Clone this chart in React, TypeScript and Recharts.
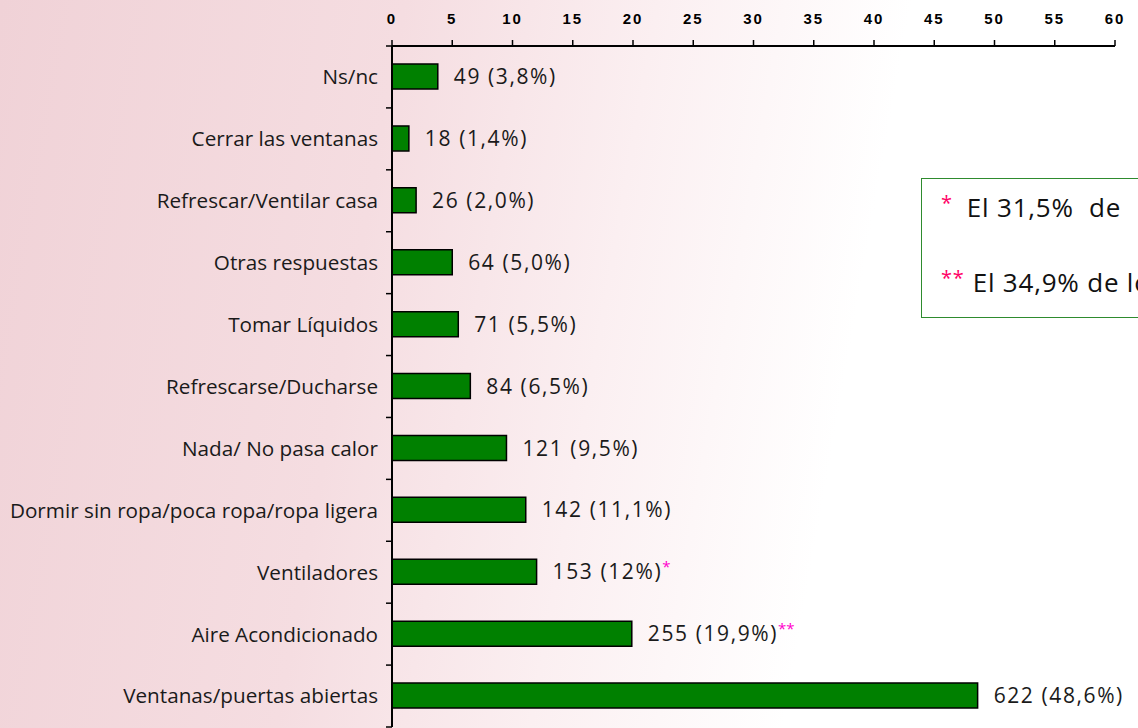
import * as React from 'react';
import { BarChart, Bar, XAxis, YAxis, LabelList } from 'recharts';

const categories = [
  'Ns/nc',
  'Cerrar las ventanas',
  'Refrescar/Ventilar casa',
  'Otras respuestas',
  'Tomar Líquidos',
  'Refrescarse/Ducharse',
  'Nada/ No pasa calor',
  'Dormir sin ropa/poca ropa/ropa ligera',
  'Ventiladores',
  'Aire Acondicionado',
  'Ventanas/puertas abiertas',
];
const counts = [49, 18, 26, 64, 71, 84, 121, 142, 153, 255, 622];
const percents = [3.8, 1.4, 2.0, 5.0, 5.5, 6.5, 9.5, 11.1, 12, 19.9, 48.6];
const percentText = ['3,8', '1,4', '2,0', '5,0', '5,5', '6,5', '9,5', '11,1', '12', '19,9', '48,6'];
const marks = ['', '', '', '', '', '', '', '', '*', '**', ''];
const xTicks = [0, 5, 10, 15, 20, 25, 30, 35, 40, 45, 50, 55, 60];
const notes = [
  { mark: '*', text: 'El 31,5%  de' },
  { mark: '**', text: 'El 34,9% de lo' },
];

const data = categories.map((name, i) => ({
  name,
  value: percents[i],
  label: `${counts[i]} (${percentText[i]}%)`,
  mark: marks[i],
}));

const FONT = '"Open Sans", "Liberation Sans", sans-serif';

function BarLabel(props: any) {
  const { x, y, width, height, index } = props;
  const d = data[index];
  return (
    <text
      x={x + width + 16}
      y={y + height / 2}
      dy="0.36em"
      fontFamily={FONT}
      fontSize={21}
      letterSpacing={1.6}
      fill="#1a1a1a"
    >
      {d.label}
      {d.mark && (
        <tspan fill="#ff00cc" fontSize={15} dy="-0.5em" letterSpacing={0}>
          {d.mark}
        </tspan>
      )}
    </text>
  );
}

// category label at the band centre, small tick marks on the band boundaries
function CategoryTick(props: any) {
  const { x, y, payload, index, height, visibleTicksCount } = props;
  const band = height / visibleTicksCount;
  const axisX = x + 14;
  return (
    <g>
      <line x1={axisX - 6} x2={axisX} y1={y - band / 2} y2={y - band / 2} stroke="#000" strokeWidth={1.5} />
      {index === visibleTicksCount - 1 && (
        <line x1={axisX - 6} x2={axisX} y1={y + band / 2} y2={y + band / 2} stroke="#000" strokeWidth={1.5} />
      )}
      <text
        x={x}
        y={y}
        dy="0.36em"
        textAnchor="end"
        fontFamily={FONT}
        fontSize={20.7}
        fill="#1a1a1a"
      >
        {payload.value}
      </text>
    </g>
  );
}

export default function App() {
  return (
    <div
      style={{
        position: 'absolute',
        left: 0,
        top: 0,
        width: 1138,
        height: 728,
        overflow: 'hidden',
        background:
          'linear-gradient(100deg, #f0d2d7 0%, #f5dde1 32%, #fbeff1 52%, #ffffff 72%)',
      }}
    >
      <BarChart
        width={1138}
        height={728}
        data={data}
        layout="vertical"
        barSize={25}
        margin={{ top: 0, right: 23, bottom: 1, left: 0 }}
      >
        <YAxis
          type="category"
          dataKey="name"
          width={392}
          axisLine={{ stroke: '#000', strokeWidth: 2 }}
          tickLine={false}
          tickSize={6}
          tickMargin={8}
          tick={<CategoryTick />}
        />
        <XAxis
          type="number"
          orientation="top"
          domain={[0, 60]}
          ticks={xTicks}
          height={46}
          tickSize={6}
          tickMargin={16}
          axisLine={{ stroke: '#000', strokeWidth: 2 }}
          tickLine={{ stroke: '#000', strokeWidth: 1.5 }}
          tick={{
            fill: '#000',
            fontSize: 15,
            fontWeight: 'bold',
            fontFamily: '"Liberation Sans", Arial, sans-serif',
            letterSpacing: 2,
          }}
        />
        <Bar
          dataKey="value"
          fill="#008000"
          stroke="#000"
          strokeWidth={1.5}
          isAnimationActive={false}
        >
          <LabelList dataKey="label" content={<BarLabel />} />
        </Bar>
      </BarChart>
      <div
        style={{
          position: 'absolute',
          left: 921,
          top: 178,
          width: 400,
          height: 140,
          border: '1.5px solid #2e8b2e',
          background: '#ffffff',
          fontFamily: FONT,
          fontSize: 26,
          letterSpacing: 0.8,
          color: '#111',
          boxSizing: 'border-box',
        }}
      >
        {notes.map((n, i) => (
          <div
            key={i}
            style={{
              position: 'absolute',
              left: 19,
              top: 10 + i * 75,
              whiteSpace: 'pre',
            }}
          >
            <span style={{ color: '#ff0066', fontSize: 20, verticalAlign: 'top' }}>{n.mark}</span>
            <span style={{ marginLeft: i === 0 ? 14 : 8 }}>{n.text}</span>
          </div>
        ))}
      </div>
    </div>
  );
}
